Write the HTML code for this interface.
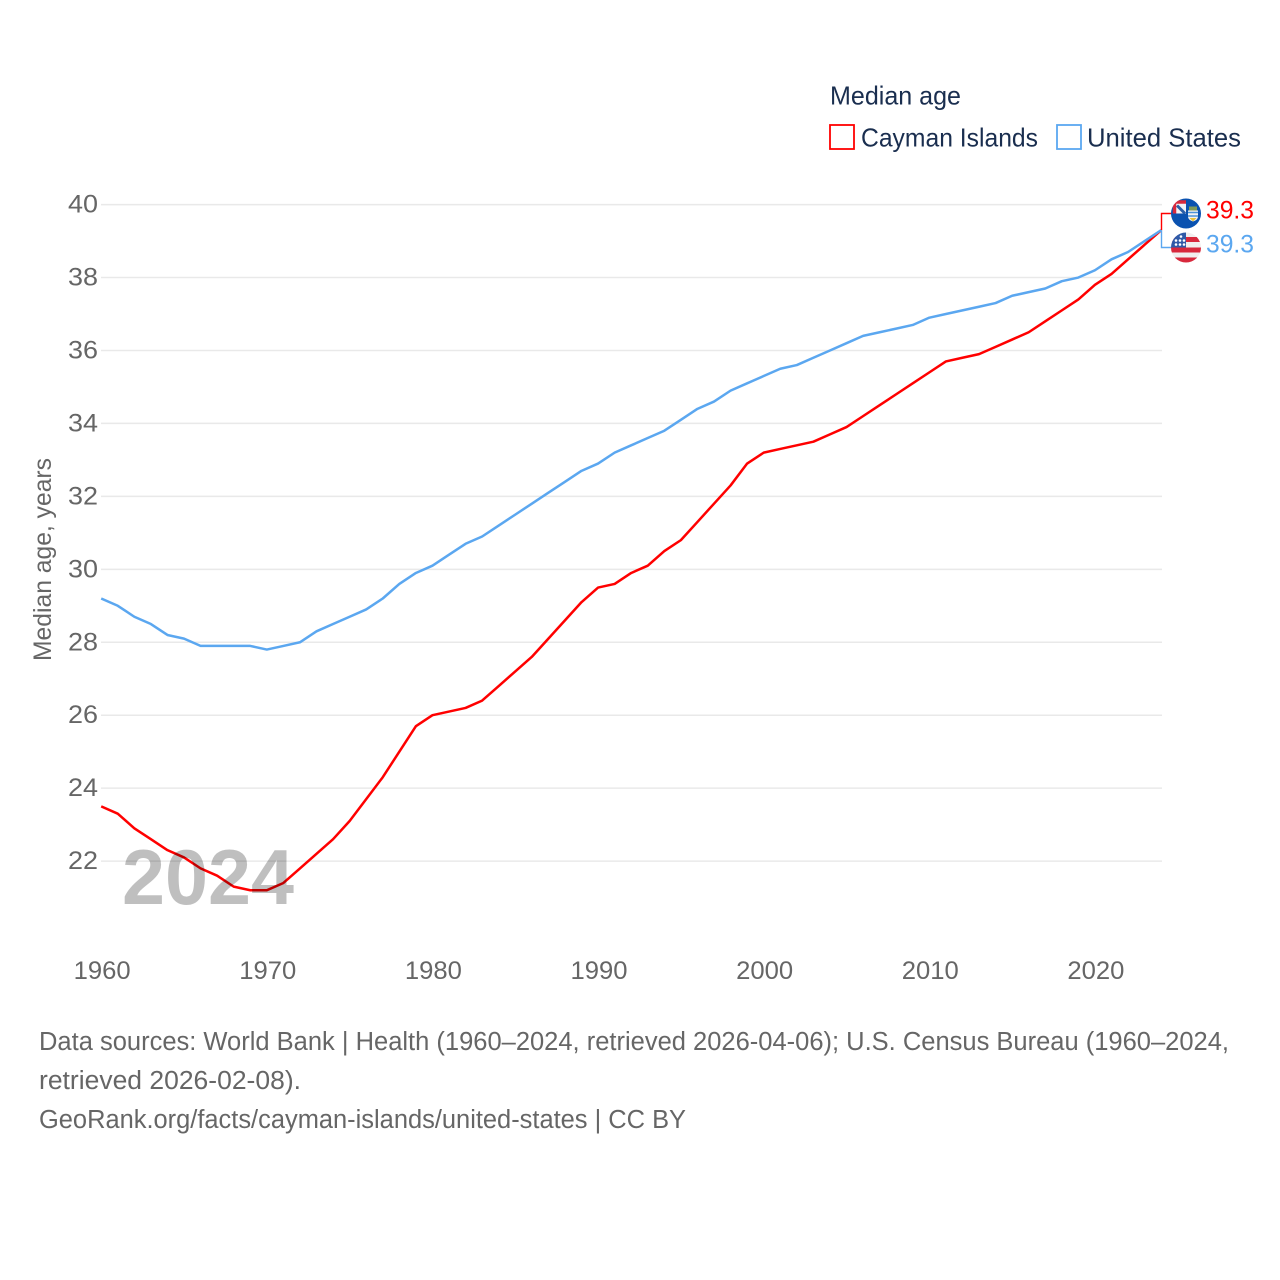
<!DOCTYPE html>
<html lang="en">
<head>
<meta charset="utf-8">
<title>Median age: Cayman Islands and United States</title>
<style>
html,body{margin:0;padding:0;background:#fff}
svg{display:block;font-family:"Liberation Sans",sans-serif}
</style>
</head>
<body>
<svg id="chart" xmlns="http://www.w3.org/2000/svg" width="1280" height="1280" viewBox="0 0 1280 1280">
  <defs>
    <clipPath id="flag-clip"><circle cx="0" cy="0" r="15"/></clipPath>
  </defs>
  <rect width="1280" height="1280" fill="#fff"/>
  <g id="grid"></g>
  <g id="y-axis"></g>
  <g id="x-axis"></g>
  <text transform="translate(51,661) rotate(-90)" font-size="25" fill="#666" textLength="203" lengthAdjust="spacingAndGlyphs">Median age, years</text>
  <g id="series"></g>
  <text x="122" y="904" font-size="78" font-weight="bold" fill="#000" fill-opacity="0.25" textLength="172" lengthAdjust="spacingAndGlyphs">2024</text>
  <g id="end-labels"></g>

  <g>
    <text x="830" y="104.5" font-size="26" fill="#1a2e4f" textLength="131" lengthAdjust="spacingAndGlyphs">Median age</text>
    <g>
      <rect x="830" y="125" width="24" height="24" fill="#fff" stroke="#ff0000" stroke-width="1.8"/>
      <text x="861" y="146.5" font-size="26" fill="#1a2e4f" textLength="177" lengthAdjust="spacingAndGlyphs">Cayman Islands</text>
    </g>
    <g>
      <rect x="1057" y="125" width="24" height="24" fill="#fff" stroke="#5ba7f0" stroke-width="1.8"/>
      <text x="1087" y="146.5" font-size="26" fill="#1a2e4f" textLength="154" lengthAdjust="spacingAndGlyphs">United States</text>
    </g>
  </g>

  <g font-size="25.5" fill="#666">
    <text x="39" y="1050" textLength="1190" lengthAdjust="spacingAndGlyphs">Data sources: World Bank | Health (1960–2024, retrieved 2026-04-06); U.S. Census Bureau (1960–2024,</text>
    <text x="39" y="1089" textLength="262" lengthAdjust="spacingAndGlyphs">retrieved 2026-02-08).</text>
    <text x="39" y="1128" textLength="647" lengthAdjust="spacingAndGlyphs">GeoRank.org/facts/cayman-islands/united-states | CC BY</text>
  </g>
</svg>
<script>
const years = [1960,1961,1962,1963,1964,1965,1966,1967,1968,1969,1970,1971,1972,1973,1974,1975,1976,1977,1978,1979,1980,1981,1982,1983,1984,1985,1986,1987,1988,1989,1990,1991,1992,1993,1994,1995,1996,1997,1998,1999,2000,2001,2002,2003,2004,2005,2006,2007,2008,2009,2010,2011,2012,2013,2014,2015,2016,2017,2018,2019,2020,2021,2022,2023,2024];
const caymanIslands = [23.5,23.3,22.9,22.6,22.3,22.1,21.8,21.6,21.3,21.2,21.2,21.4,21.8,22.2,22.6,23.1,23.7,24.3,25.0,25.7,26.0,26.1,26.2,26.4,26.8,27.2,27.6,28.1,28.6,29.1,29.5,29.6,29.9,30.1,30.5,30.8,31.3,31.8,32.3,32.9,33.2,33.3,33.4,33.5,33.7,33.9,34.2,34.5,34.8,35.1,35.4,35.7,35.8,35.9,36.1,36.3,36.5,36.8,37.1,37.4,37.8,38.1,38.5,38.9,39.3];
const unitedStates = [29.2,29.0,28.7,28.5,28.2,28.1,27.9,27.9,27.9,27.9,27.8,27.9,28.0,28.3,28.5,28.7,28.9,29.2,29.6,29.9,30.1,30.4,30.7,30.9,31.2,31.5,31.8,32.1,32.4,32.7,32.9,33.2,33.4,33.6,33.8,34.1,34.4,34.6,34.9,35.1,35.3,35.5,35.6,35.8,36.0,36.2,36.4,36.5,36.6,36.7,36.9,37.0,37.1,37.2,37.3,37.5,37.6,37.7,37.9,38.0,38.2,38.5,38.7,39.0,39.3];
const yTicks = [22,24,26,28,30,32,34,36,38,40];
const xTicks = [1960,1970,1980,1990,2000,2010,2020];

const NS = 'http://www.w3.org/2000/svg';
const RED = '#ff0000';
const BLUE = '#5ba7f0';
const xScale = function (year) { return 101.2 + (year - 1960) * (1060 / 64); };
const yScale = function (value) { return 204.6 + (40 - value) * (656.5 / 18); };

function make(tag, attrs, parent) {
  const el = document.createElementNS(NS, tag);
  Object.keys(attrs).forEach(function (k) { el.setAttribute(k, attrs[k]); });
  parent.appendChild(el);
  return el;
}

const gridGroup = document.getElementById('grid');
const yGroup = document.getElementById('y-axis');
const xGroup = document.getElementById('x-axis');
const seriesGroup = document.getElementById('series');
const labelGroup = document.getElementById('end-labels');

yTicks.forEach(function (tick) {
  const line = make('line', {x1: 101, x2: 1162, y1: yScale(tick), y2: yScale(tick), stroke: '#e9e9e9', 'stroke-width': 1.5}, gridGroup);
  
  
  const label = make('text', {x: 98, y: yScale(tick) + 8, 'text-anchor': 'end', 'font-size': 25, fill: '#666', textLength: 30, lengthAdjust: 'spacingAndGlyphs'}, yGroup);
  
  
  label.textContent = tick;
});

xTicks.forEach(function (tick) {
  const label = make('text', {x: xScale(tick) + 1, y: 979, 'text-anchor': 'middle', 'font-size': 25, fill: '#666', textLength: 57, lengthAdjust: 'spacingAndGlyphs'}, xGroup);
  
  
  label.textContent = tick;
});

function linePath(values) {
  return values.map(function (v, i) {
    return (i ? 'L' : 'M') + xScale(years[i]).toFixed(2) + ' ' + yScale(v).toFixed(2);
  }).join('');
}

const caymanLine = make('path', {d: linePath(caymanIslands), fill: 'none', stroke: RED, 'stroke-width': 2.5, 'stroke-linejoin': 'round'}, seriesGroup);


const usLine = make('path', {d: linePath(unitedStates), fill: 'none', stroke: BLUE, 'stroke-width': 2.5, 'stroke-linejoin': 'round'}, seriesGroup);



const lastIndex = years.length - 1;
const endX = 1161.5;
const caymanEndY = yScale(caymanIslands[lastIndex]);
const usEndY = yScale(unitedStates[lastIndex]);
const caymanLabelY = Math.round(Math.min((caymanEndY + usEndY) / 2, caymanEndY) - 17.5) + 0.5;
const usLabelY = Math.round(Math.max(caymanEndY + 16.5, usEndY + 16.5)) + 0.5;

const caymanLeader = make('path', {d: 'M' + endX + ' ' + caymanEndY + 'V' + caymanLabelY + 'H1172', fill: 'none', stroke: RED, 'stroke-width': 1.4}, labelGroup);


const usLeader = make('path', {d: 'M' + endX + ' ' + usEndY + 'V' + usLabelY + 'H1172', fill: 'none', stroke: BLUE, 'stroke-width': 1.4}, labelGroup);



// Cayman Islands flag
const kyFlag = make('g', {transform: 'translate(1186,' + caymanLabelY + ')', 'clip-path': 'url(#flag-clip)'}, labelGroup);


make('rect', {x: -15, y: -15, width: 30, height: 30, fill: '#0a52b0'}, kyFlag);
make('rect', {x: -13, y: -13, width: 13, height: 13, fill: '#f2f2f6'}, kyFlag);
make('path', {d: 'M-9 -8L-1 0', stroke: '#2a5fa8', 'stroke-width': 3}, kyFlag);
make('path', {d: 'M-11.5 0V-11.5H0', fill: 'none', stroke: '#d8283c', 'stroke-width': 3.5}, kyFlag);
make('path', {d: 'M2 -3H12V3Q12 6.5 7 8Q2 6.5 2 3Z', fill: '#f2f2f2'}, kyFlag);
make('path', {d: 'M2 -1H12M2 2.5H12', stroke: '#4b93d8', 'stroke-width': 1.5}, kyFlag);
make('path', {d: 'M3.5 4.5H10.5L7 8Z', fill: '#e8c23a'}, kyFlag);
make('rect', {x: 3, y: -7, width: 8, height: 4, fill: '#7f9a5a'}, kyFlag);

// United States flag
const usFlag = make('g', {transform: 'translate(1186,' + usLabelY + ')', 'clip-path': 'url(#flag-clip)'}, labelGroup);


make('rect', {x: -15, y: -15, width: 30, height: 30, fill: '#f1eeee'}, usFlag);
[-10.5, 0, 10].forEach(function (offset) {
  make('rect', {x: -15, y: offset, width: 30, height: 5, fill: '#d8283c'}, usFlag);
});
make('rect', {x: -15, y: -15, width: 15, height: 15, fill: '#2f5aa8'}, usFlag);
[[-10, -7], [-6, -7], [-2, -7], [-10, -3], [-6, -3], [-2, -3], [-5, -11]].forEach(function (star) {
  make('circle', {cx: star[0], cy: star[1], r: 1.3, fill: '#fff'}, usFlag);
});

const caymanValue = make('text', {x: 1206, y: caymanLabelY + 5, 'font-size': 25, fill: RED, textLength: 48, lengthAdjust: 'spacingAndGlyphs'}, labelGroup);


caymanValue.textContent = caymanIslands[lastIndex].toFixed(1);

const usValue = make('text', {x: 1206, y: usLabelY + 5, 'font-size': 25, fill: BLUE, textLength: 48, lengthAdjust: 'spacingAndGlyphs'}, labelGroup);


usValue.textContent = unitedStates[lastIndex].toFixed(1);
</script>
</body>
</html>
